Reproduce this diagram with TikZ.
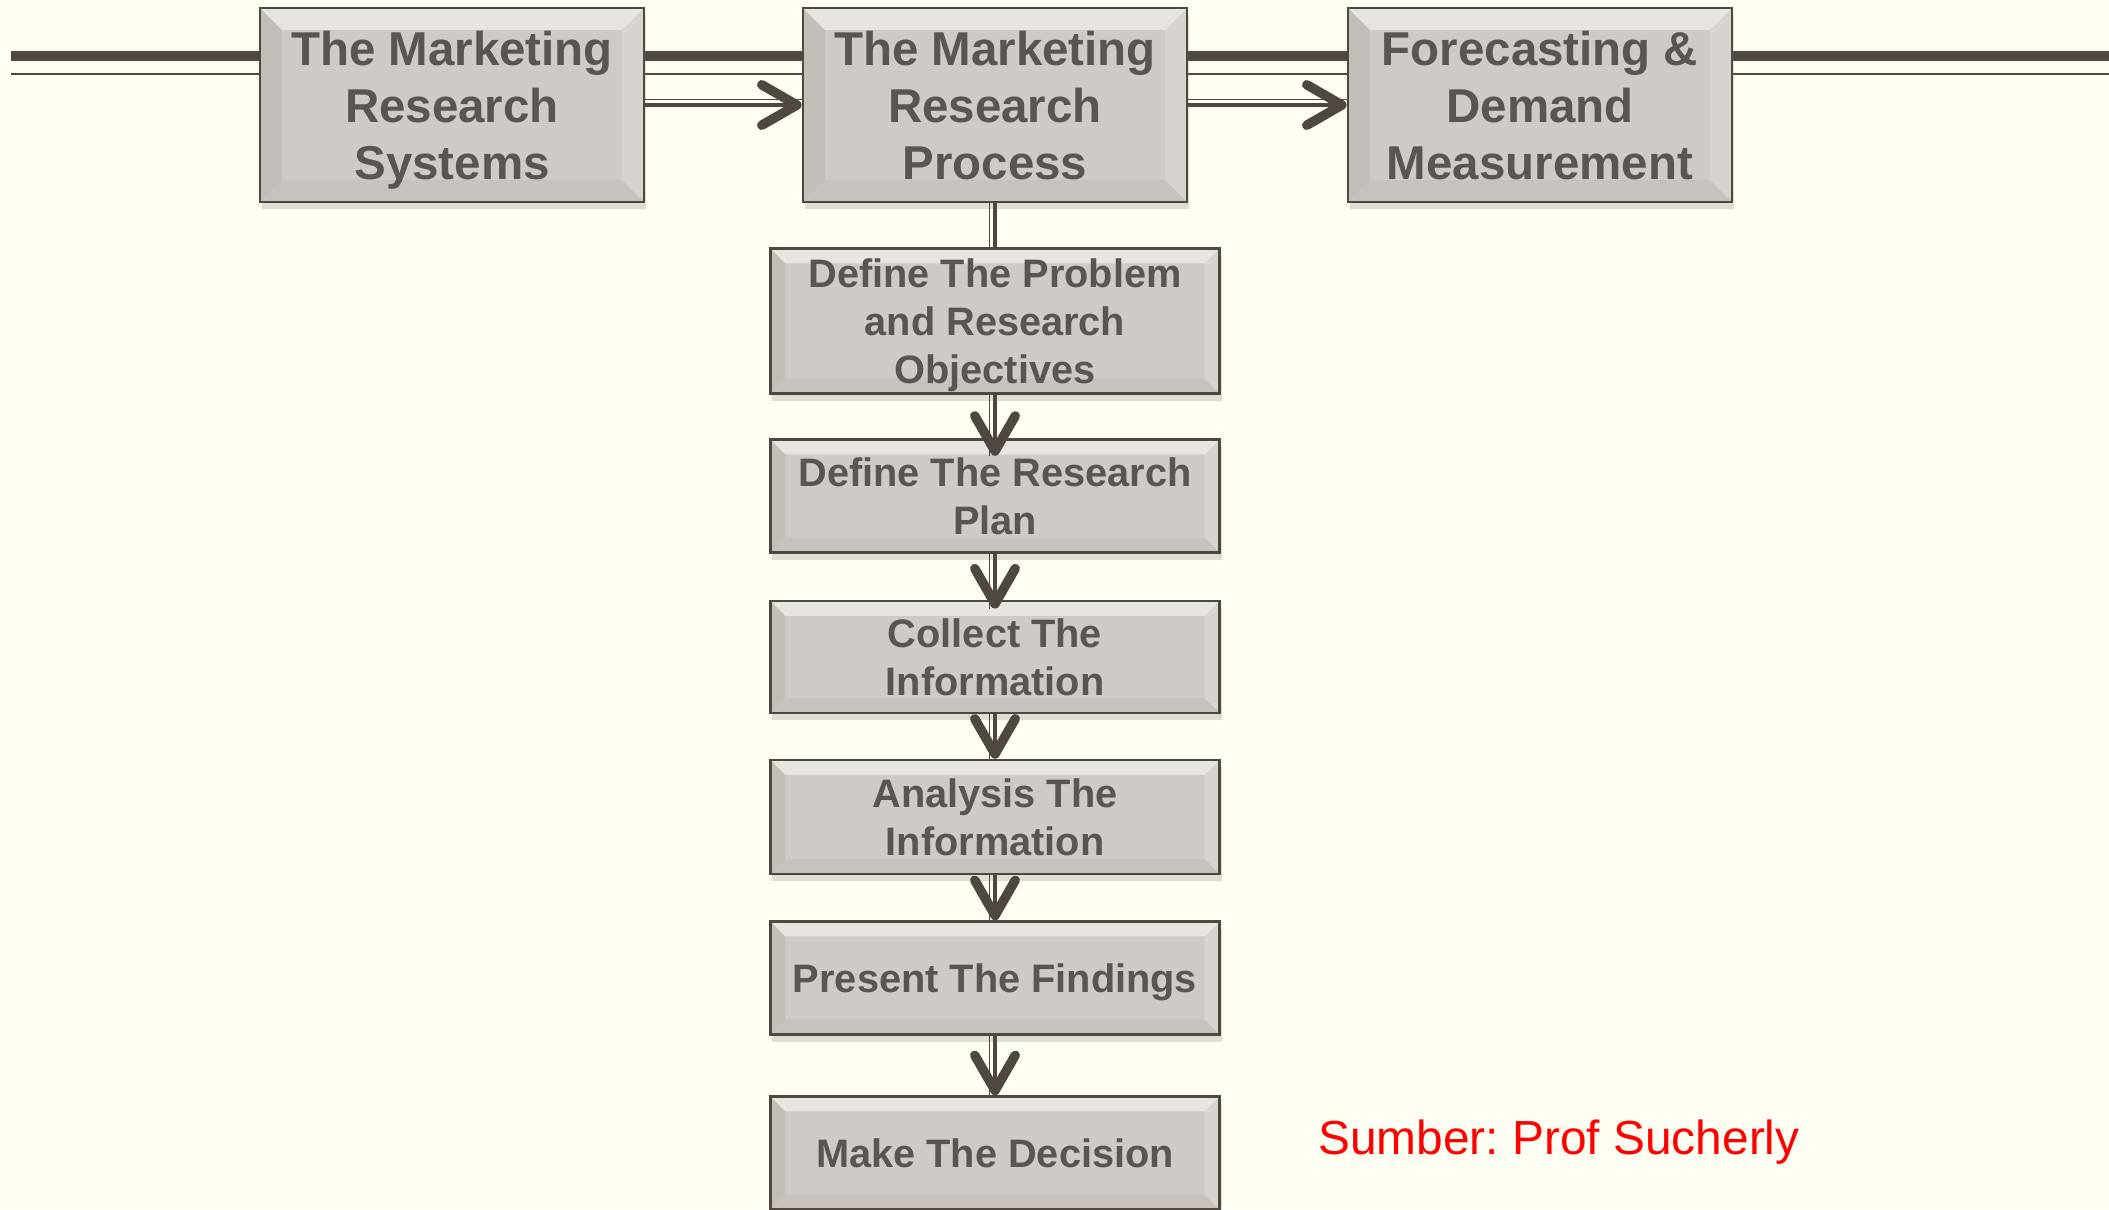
\documentclass[tikz,border=0pt]{standalone}
\usepackage{fontspec}
\setmainfont{Liberation Sans}
\frenchspacing
\usetikzlibrary{arrows.meta}
\usetikzlibrary{shadows}

\definecolor{paper}{RGB}{254,254,242}
\definecolor{boxfill}{RGB}{208,202,198}
\definecolor{ink}{RGB}{89,85,80}
\definecolor{wire}{RGB}{78,71,66}

\tikzset{
    bevel/.style={path picture={
        \fill[white,opacity=.5] (path picture bounding box.north west) -- (path picture bounding box.north east)
            -- ([shift={(-#1,#1)}]path picture bounding box.north east) -- ([shift={(#1,#1)}]path picture bounding box.north west) -- cycle;
        \fill[black,opacity=.06] (path picture bounding box.north west) -- (path picture bounding box.south west)
            -- ([shift={(#1,-#1)}]path picture bounding box.south west) -- ([shift={(#1,#1)}]path picture bounding box.north west) -- cycle;
        \fill[white,opacity=.18] (path picture bounding box.north east) -- (path picture bounding box.south east)
            -- ([shift={(-#1,-#1)}]path picture bounding box.south east) -- ([shift={(-#1,#1)}]path picture bounding box.north east) -- cycle;
        \fill[black,opacity=.04] (path picture bounding box.south west) -- (path picture bounding box.south east)
            -- ([shift={(-#1,-#1)}]path picture bounding box.south east) -- ([shift={(#1,-#1)}]path picture bounding box.south west) -- cycle;
    }},
    stage/.style={draw=wire, line width=0.7pt, fill=boxfill, text=ink, align=center, inner sep=0pt, text depth=0pt,
        drop shadow={shadow xshift=0.6pt, shadow yshift=-2pt, opacity=.25}},
    bigstage/.style={stage, bevel=22, minimum width=3.84cm, minimum height=1.94cm,
        font=\fontsize{13.5}{16.2}\selectfont\bfseries},
    substage/.style={stage, bevel=15, minimum width=4.49cm,
        font=\fontsize{11.3}{13.6}\selectfont\bfseries},
    % thick line with a thin companion beside it
    vpipe/.style={draw=wire, line width=1.4pt,
        preaction={draw=wire, arrows={-}, line width=0.45pt, transform canvas={xshift=-1.6pt}}},
    hpipe/.style={draw=wire, line width=1.4pt,
        preaction={draw=wire, arrows={-}, line width=0.45pt, transform canvas={yshift=1.6pt}}},
    tip/.style={-{Straight Barb[length=10pt, width=11.5pt, line width=2.7pt, round]}}
}

\begin{document}
\begin{tikzpicture}[x=0.01cm, y=-0.01cm]
    \fill[paper] (0,0) rectangle (2109,1209);
    \useasboundingbox (0,0) rectangle (2109,1209);

    % rails behind the top row
    \coordinate (railL) at (11,56);
    \coordinate (railR) at (2109,56);
    \coordinate (thinL) at (11,74);
    \coordinate (thinR) at (2109,74);
    \draw[wire, line width=2.6pt] (railL) -- (railR);
    \draw[wire, line width=0.85pt] (thinL) -- (thinR);

    % top row
    \node[bigstage] (mrs) at (452,105) {The Marketing\\Research\\Systems};
    \node[bigstage] (mrp) at (995,105) {The Marketing\\Research\\Process};
    \node[bigstage] (fdm) at (1540,105) {Forecasting \&\\Demand\\Measurement};

    % process steps
    \node[substage, minimum height=1.45cm] (problem) at (995,321) {Define The Problem\\and Research\\Objectives};
    \node[substage, minimum height=1.13cm] (plan) at (995,496) {Define The Research\\Plan};
    \node[substage, minimum height=1.12cm] (collect) at (995,657) {Collect The\\Information};
    \node[substage, minimum height=1.14cm] (analysis) at (995,817) {Analysis The\\Information};
    \node[substage, minimum height=1.13cm] (present) at (995,978) {Present The Findings};
    \node[substage, minimum height=1.13cm] (decide) at (995,1153) {Make The Decision};

    \draw[hpipe, tip] (mrs) -- (mrp);
    \draw[hpipe, tip] (mrp) -- (fdm);
    \draw[vpipe] (mrp) -- (problem);
    \draw[vpipe, tip, shorten >=-5pt] (problem) -- (plan);
    \draw[vpipe, tip, shorten >=-2.5pt] (plan) -- (collect);
    \draw[vpipe, tip] (collect) -- (analysis);
    \draw[vpipe, tip] (analysis) -- (present);
    \draw[vpipe, tip] (present) -- (decide);

    \node[text=red, font=\fontsize{13.6}{16}\selectfont] (source) at (1559,1142) {Sumber: Prof Sucherly};
\end{tikzpicture}
\end{document}
